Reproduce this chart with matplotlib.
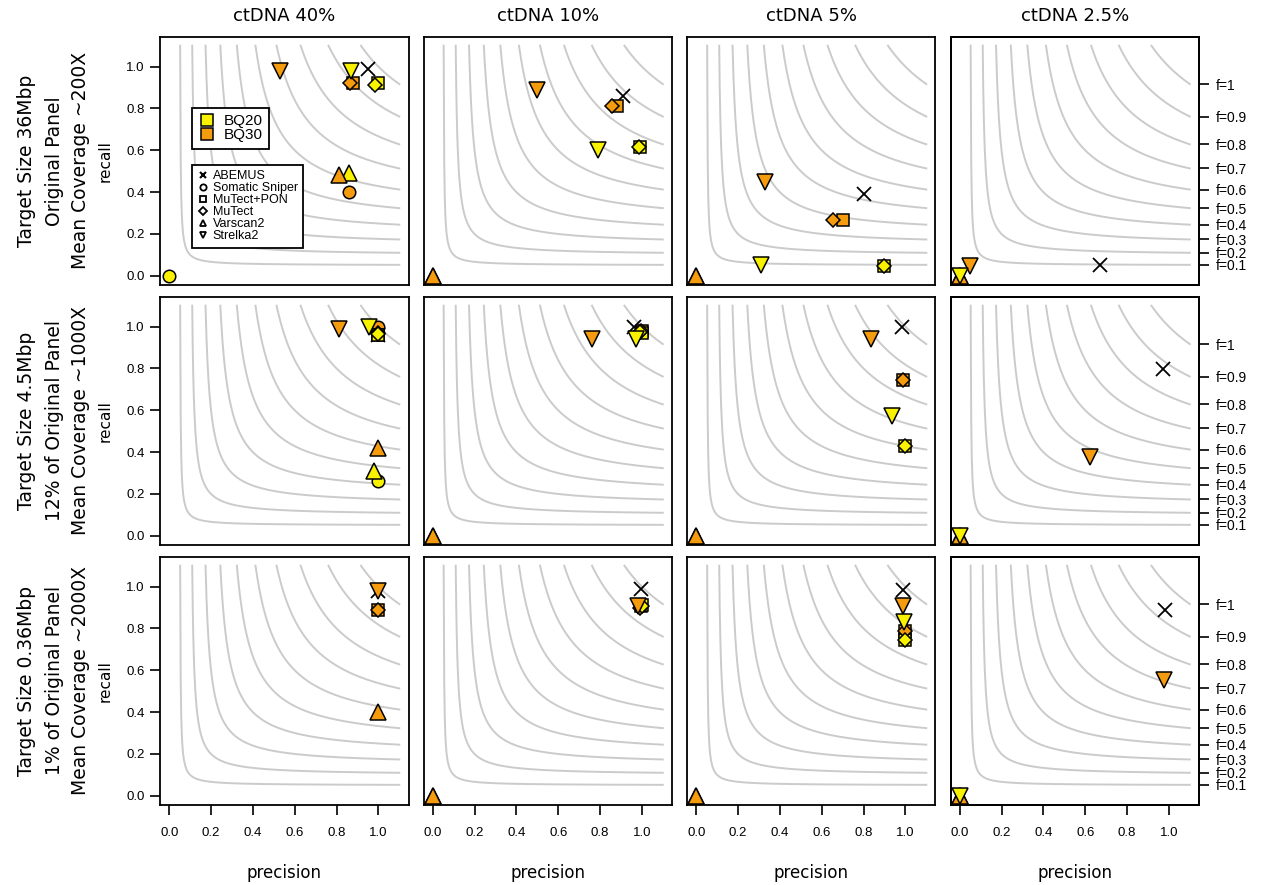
import numpy as np
import matplotlib
matplotlib.use("Agg")
import matplotlib.pyplot as plt
from matplotlib.lines import Line2D

nan = np.nan

col_titles = ["ctDNA 40%", "ctDNA 10%", "ctDNA 5%", "ctDNA 2.5%"]
row_titles = [
    ["Target Size 36Mbp", "Original Panel", "Mean Coverage ~200X"],
    ["Target Size 4.5Mbp", "12% of Original Panel", "Mean Coverage ~1000X"],
    ["Target Size 0.36Mbp", "1% of Original Panel", "Mean Coverage ~2000X"],
]
f_levels = [0.1, 0.2, 0.3, 0.4, 0.5, 0.6, 0.7, 0.8, 0.9, 1.0]
f_labels = ["f=0.1", "f=0.2", "f=0.3", "f=0.4", "f=0.5", "f=0.6", "f=0.7", "f=0.8", "f=0.9", "f=1"]
axis_ticks = [0.0, 0.2, 0.4, 0.6, 0.8, 1.0]
axis_ticklabels = ["0.0", "0.2", "0.4", "0.6", "0.8", "1.0"]
tools = ["ABEMUS", "Somatic Sniper", "MuTect+PON", "MuTect", "Varscan2", "Strelka2"]
bq_labels = ["BQ20", "BQ30"]

# values: rows (target size) x columns (ctDNA)
abemus_prec = [[0.95, 0.91, 0.80, 0.67], [1.00, 0.96, 0.985, 0.97], [1.00, 0.995, 0.99, 0.98]]
abemus_rec = [[0.99, 0.86, 0.39, 0.053], [0.96, 1.00, 1.00, 0.797], [0.98, 0.99, 0.985, 0.89]]

ss20_prec = [[0.00, nan, nan, nan], [1.00, nan, nan, nan], [nan, nan, nan, nan]]
ss20_rec = [[0.00, nan, nan, nan], [0.26, nan, nan, nan], [nan, nan, nan, nan]]
ss30_prec = [[0.86, nan, nan, nan], [1.00, nan, nan, nan], [nan, nan, nan, nan]]
ss30_rec = [[0.40, nan, nan, nan], [1.00, nan, nan, nan], [nan, nan, nan, nan]]

mp20_prec = [[1.00, 0.99, 0.90, nan], [1.00, 1.00, 1.00, nan], [nan, 1.00, 1.00, nan]]
mp20_rec = [[0.92, 0.615, 0.045, nan], [0.96, 0.97, 0.427, nan], [nan, 0.91, 0.745, nan]]
mp30_prec = [[0.88, 0.88, 0.70, nan], [1.00, 1.00, 0.99, nan], [1.00, 0.995, 1.00, nan]]
mp30_rec = [[0.92, 0.81, 0.265, nan], [0.96, 0.98, 0.746, nan], [0.89, 0.905, 0.79, nan]]

mu20_prec = [[0.985, 0.985, 0.90, nan], [1.00, 0.99, 1.00, nan], [nan, 1.00, 1.00, nan]]
mu20_rec = [[0.91, 0.615, 0.045, nan], [0.965, 0.975, 0.427, nan], [nan, 0.905, 0.745, nan]]
mu30_prec = [[0.865, 0.855, 0.655, nan], [1.00, 0.995, 0.99, nan], [1.00, 0.99, 1.00, nan]]
mu30_rec = [[0.92, 0.81, 0.265, nan], [0.97, 0.98, 0.746, nan], [0.89, 0.90, 0.79, nan]]

vs20_prec = [[0.86, 0.0, 0.0, 0.0], [0.98, 0.0, 0.0, 0.0], [nan, 0.0, 0.0, 0.0]]
vs20_rec = [[0.49, 0.0, 0.0, 0.0], [0.31, 0.0, 0.0, 0.0], [nan, 0.0, 0.0, 0.0]]
vs30_prec = [[0.81, 0.0, 0.0, 0.0], [1.00, 0.0, 0.0, 0.0], [1.00, 0.0, 0.0, 0.0]]
vs30_rec = [[0.48, 0.0, 0.0, 0.0], [0.42, 0.0, 0.0, 0.0], [0.40, 0.0, 0.0, 0.0]]

st20_prec = [[0.87, 0.79, 0.31, 0.0], [0.955, 0.97, 0.935, 0.0], [nan, nan, 0.995, 0.0]]
st20_rec = [[0.98, 0.60, 0.053, 0.0], [1.00, 0.94, 0.575, 0.0], [nan, nan, 0.83, 0.0]]
st30_prec = [[0.53, 0.50, 0.33, 0.048], [0.81, 0.76, 0.835, 0.625], [1.00, 0.98, 0.99, 0.975]]
st30_rec = [[0.98, 0.89, 0.45, 0.048], [0.99, 0.94, 0.94, 0.377], [0.98, 0.905, 0.905, 0.555]]

YELLOW = "#F8F200"
ORANGE = "#F59B0E"
CURVE = "#CBCBCB"
TICKFONT = ["Liberation Sans", "DejaVu Sans"]

# (marker, size, first-drawn series, last-drawn series)
tool_series = [
    ("o", 9.0, (ss30_prec, ss30_rec, ORANGE), (ss20_prec, ss20_rec, YELLOW)),
    ("s", 8.6, (mp30_prec, mp30_rec, ORANGE), (mp20_prec, mp20_rec, YELLOW)),
    ("D", 7.6, (mu30_prec, mu30_rec, ORANGE), (mu20_prec, mu20_rec, YELLOW)),
    ("^", 12.0, (vs20_prec, vs20_rec, YELLOW), (vs30_prec, vs30_rec, ORANGE)),
    ("v", 12.0, (st30_prec, st30_rec, ORANGE), (st20_prec, st20_rec, YELLOW)),
]

W, H = 1265, 885
fig = plt.figure(figsize=(W / 100, H / 100), dpi=100)

col_left = [160, 423.5, 687, 950.5]
row_top = [36.5, 296.5, 556.5]
pw, ph = 248.5, 248.5
lim = (-0.044, 1.144)


def fcurve(f):
    p = np.linspace(1.1 * f / (2.2 - f), 1.1, 400)
    return p, f * p / (2 * p - f)


for r in range(3):
    for c in range(4):
        ax = fig.add_axes([col_left[c] / W, 1 - (row_top[r] + ph) / H, pw / W, ph / H])
        ax.set_xlim(lim)
        ax.set_ylim(lim)
        for f in f_levels:
            px, ry = fcurve(f)
            ax.plot(px, ry, color=CURVE, lw=1.4, zorder=1)
        ax.plot(abemus_prec[r][c], abemus_rec[r][c], marker="x", color="black",
                markersize=10, mew=1.3, linestyle="none", zorder=2)
        z = 3
        for mk, ms, first, last in tool_series:
            for pp, rr, col in (first, last):
                ax.plot(pp[r][c], rr[r][c], marker=mk, markersize=ms, markerfacecolor=col,
                        markeredgecolor="black", mew=1.1, linestyle="none", zorder=z)
                z += 1
        for s in ax.spines.values():
            s.set_linewidth(1.3)
        ax.tick_params(direction="out", length=7, width=1.2, labelsize=9.5, pad=4)
        if c == 0:
            ax.set_yticks(axis_ticks)
            ax.set_yticklabels(axis_ticklabels, fontfamily=TICKFONT)
            ax.set_ylabel("recall", fontsize=11, labelpad=10)
        else:
            ax.set_yticks([])
        if r == 2:
            ax.set_xticks(axis_ticks)
            ax.set_xticklabels(axis_ticklabels, fontfamily=TICKFONT)
            ax.tick_params(axis="x", pad=9)
            ax.set_xlabel("precision", fontsize=12, labelpad=18)
        else:
            ax.set_xticks([])
        if r == 0:
            ax.set_title(col_titles[c], fontsize=13, pad=11)
        if c == 3:
            ax2 = ax.twinx()
            ax2.set_ylim(lim)
            ypos = [f * 1.1 / (2.2 - f) for f in f_levels]
            ax2.set_yticks(ypos)
            ax2.set_yticklabels(f_labels, fontfamily=TICKFONT)
            ax2.tick_params(direction="out", length=7, width=1.2, labelsize=10, pad=5)
            for s in ax2.spines.values():
                s.set_linewidth(1.3)
        if r == 0 and c == 0:
            h1 = [Line2D([], [], marker="s", markersize=8, markerfacecolor=col,
                         markeredgecolor="black", mew=1.1, linestyle="none")
                  for col in (YELLOW, ORANGE)]
            leg1 = ax.legend(h1, bq_labels, loc="upper left", bbox_to_anchor=(0.129, 0.714),
                             borderaxespad=0, fancybox=False, edgecolor="black",
                             framealpha=1, handlelength=1.0, handletextpad=0.6,
                             labelspacing=0.0, borderpad=0.45,
                             prop={"family": TICKFONT, "size": 11})
            leg1.get_frame().set_linewidth(1.3)
            ax.add_artist(leg1)
            h2 = [Line2D([], [], marker="x", color="black", markersize=5, mew=1.5, linestyle="none")]
            for mk in ("o", "s", "D", "^", "v"):
                h2.append(Line2D([], [], marker=mk, markersize=4.5 if mk != "D" else 3.8,
                                 markerfacecolor="none", markeredgecolor="black", mew=1.3,
                                 linestyle="none"))
            leg2 = ax.legend(h2, tools, loc="upper left", bbox_to_anchor=(0.129, 0.484),
                             borderaxespad=0, fancybox=False, edgecolor="black",
                             framealpha=1, handlelength=0.8, handletextpad=0.4,
                             labelspacing=0.0, borderpad=0.45,
                             prop={"family": TICKFONT, "size": 9})
            leg2.get_frame().set_linewidth(1.3)

for r in range(3):
    yc = 1 - (row_top[r] + ph / 2) / H
    for i, xpx in enumerate([27, 54, 80]):
        fig.text(xpx / W, yc, row_titles[r][i], rotation=90, ha="center", va="center", fontsize=13.5)

fig.savefig("out.png", dpi=100)
